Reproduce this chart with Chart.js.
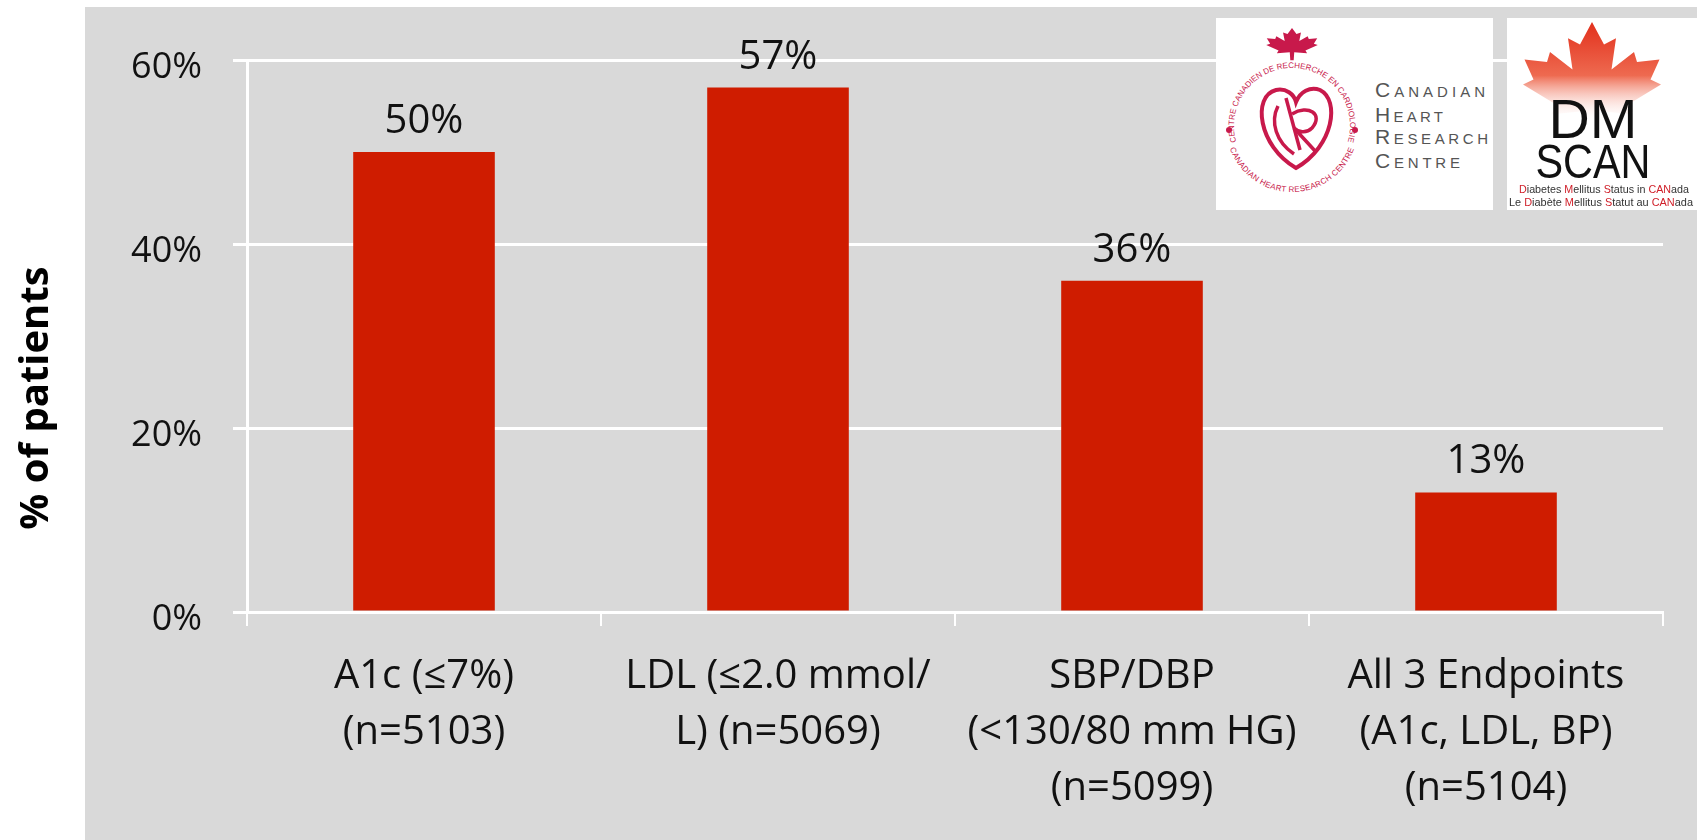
<!DOCTYPE html>
<html>
<head>
<meta charset="utf-8">
<script src="https://cdn.jsdelivr.net/npm/chart.js@4.4.1/dist/chart.umd.min.js"></script>
<style>
  html, body { margin:0; padding:0; background:#ffffff; width:1697px; height:840px; overflow:hidden; }
  #panel { position:absolute; left:85px; top:7px; width:1612px; height:833px; background:#d9d9d9; }
  #wrap { position:absolute; left:0; top:0; width:1697px; height:840px; }
  .logo { position:absolute; background:#ffffff; }
  .logo svg { position:absolute; left:0; top:0; }
</style>
</head>
<body>
<div id="panel"></div>
<div id="wrap"><canvas id="chart"></canvas></div>

<div class="logo" style="left:1216px; top:18px; width:277px; height:192px;">
  <svg width="277" height="192" viewBox="0 0 277 192">
    <defs>
      <path id="ringTop" d="M 25.8 137 A 58 58 0 1 1 126.2 137"/>
      <path id="ringBot" d="M 11 119.5 A 66 66 0 0 0 141 119.5"/>
    </defs>
    <path transform="translate(48,10) scale(0.56,0.34)" fill="#c8194b"
      d="M50 0 L58 18 L66 13 L63 38 L78 24 L80 32 L95 30 L89 46 L96 50 L74 66 L77 74 L54 71 L53 95 L47 95 L46 71 L23 74 L26 66 L4 50 L11 46 L5 30 L20 32 L22 24 L37 38 L34 13 L42 18 Z"/>
    <text font-family="Liberation Sans" font-size="8" fill="#c8194b">
      <textPath href="#ringTop" startOffset="50%" text-anchor="middle">CENTRE CANADIEN DE RECHERCHE EN CARDIOLOGIE</textPath>
    </text>
    <text font-family="Liberation Sans" font-size="8" fill="#c8194b" letter-spacing="0.3">
      <textPath href="#ringBot" startOffset="50%" text-anchor="middle">CANADIAN HEART RESEARCH CENTRE</textPath>
    </text>
    <circle cx="13" cy="112" r="3" fill="#c8194b"/>
    <circle cx="139" cy="112" r="3" fill="#c8194b"/>
    <path d="M80 150 C 42 128, 36 78, 60 72 C 70 70, 78 76, 80 84 C 84 74, 94 68, 104 72 C 124 82, 118 128, 80 150 Z"
      fill="none" stroke="#c8194b" stroke-width="4"/>
    <path d="M62 88 C 54 104, 60 124, 78 136" fill="none" stroke="#c8194b" stroke-width="3.5"/>
    <path d="M70 80 L 84 132" fill="none" stroke="#c8194b" stroke-width="3.5"/>
    <path d="M76 96 C 92 86, 108 96, 96 110 C 90 116, 82 114, 78 110 L 100 134" fill="none" stroke="#c8194b" stroke-width="3.5"/>
    <g font-family="Liberation Sans" fill="#555555" font-size="21" style="font-variant:small-caps">
      <text x="159" y="79" textLength="110" lengthAdjust="spacing">Canadian</text>
      <text x="159" y="104" textLength="68" lengthAdjust="spacing">Heart</text>
      <text x="159" y="126" textLength="113" lengthAdjust="spacing">Research</text>
      <text x="159" y="150" textLength="85" lengthAdjust="spacing">Centre</text>
    </g>
  </svg>
</div>

<div class="logo" style="left:1507px; top:18px; width:190px; height:192px;">
  <svg width="190" height="192" viewBox="0 0 190 192">
    <defs>
      <linearGradient id="leafGrad" x1="0" y1="0" x2="0" y2="1">
        <stop offset="0" stop-color="#e2301c"/>
        <stop offset="0.45" stop-color="#ee6a50"/>
        <stop offset="0.85" stop-color="#ffffff" stop-opacity="0"/>
      </linearGradient>
    </defs>
    <path transform="translate(10,4) scale(1.5,1.25)" fill="url(#leafGrad)"
      d="M50 0 L58 18 L66 13 L63 38 L78 24 L80 32 L95 30 L89 46 L96 50 L74 66 L77 74 L54 71 L53 95 L47 95 L46 71 L23 74 L26 66 L4 50 L11 46 L5 30 L20 32 L22 24 L37 38 L34 13 L42 18 Z"/>
    <text x="86" y="120" text-anchor="middle" font-family="Liberation Sans" font-size="56" fill="#111" textLength="89" lengthAdjust="spacingAndGlyphs">DM</text>
    <text x="86" y="160" text-anchor="middle" font-family="Liberation Sans" font-size="48" fill="#111" textLength="115" lengthAdjust="spacingAndGlyphs">SCAN</text>
    <text x="97" y="175" text-anchor="middle" font-family="Liberation Sans" font-size="11" fill="#333" textLength="170" lengthAdjust="spacingAndGlyphs"><tspan fill="#d0202a">D</tspan>iabetes <tspan fill="#d0202a">M</tspan>ellitus <tspan fill="#d0202a">S</tspan>tatus in <tspan fill="#d0202a">CAN</tspan>ada</text>
    <text x="94" y="188" text-anchor="middle" font-family="Liberation Sans" font-size="11" fill="#333" textLength="184" lengthAdjust="spacingAndGlyphs">Le <tspan fill="#d0202a">D</tspan>iabète <tspan fill="#d0202a">M</tspan>ellitus <tspan fill="#d0202a">S</tspan>tatut au <tspan fill="#d0202a">CAN</tspan>ada</text>
  </svg>
</div>

<script>
// ---- data ----
const categories = [
  ["A1c (≤7%)", "(n=5103)"],
  ["LDL (≤2.0 mmol/", "L) (n=5069)"],
  ["SBP/DBP", "(<130/80 mm HG)", "(n=5099)"],
  ["All 3 Endpoints", "(A1c, LDL, BP)", "(n=5104)"]
];
const values = [50, 57, 36, 13];
const yTickValues = [0, 20, 40, 60];
const yTitle = "% of patients";

// ---- plugins ----
const valueLabels = {
  id: 'valueLabels',
  afterDatasetsDraw(chart) {
    const ctx = chart.ctx;
    const meta = chart.getDatasetMeta(0);
    ctx.save();
    ctx.font = '40px "Open Sans"';
    ctx.fillStyle = '#111111';
    ctx.textAlign = 'center';
    ctx.textBaseline = 'alphabetic';
    meta.data.forEach((bar, i) => {
      ctx.fillText(values[i] + '%', bar.x, bar.y - 19);
    });
    ctx.restore();
  }
};
const yTitlePlugin = {
  id: 'yTitlePlugin',
  afterDraw(chart) {
    const ctx = chart.ctx;
    ctx.save();
    ctx.translate(37, 398);
    ctx.rotate(-Math.PI / 2);
    ctx.font = 'bold 40px "Open Sans"';
    ctx.fillStyle = '#000000';
    ctx.textAlign = 'center';
    ctx.textBaseline = 'middle';
    ctx.fillText(yTitle, 0, 0);
    ctx.restore();
  }
};

new Chart(document.getElementById('chart'), {
  type: 'bar',
  data: {
    labels: categories,
    datasets: [{
      data: values,
      backgroundColor: '#cf1c00',
      borderWidth: 0,
      barPercentage: 0.8,
      categoryPercentage: 0.5
    }]
  },
  options: {
    responsive: true,
    maintainAspectRatio: false,
    animation: false,
    layout: { padding: { top: 60, right: 34, left: 0, bottom: 0 } },
    plugins: { legend: { display: false }, tooltip: { enabled: false } },
    scales: {
      x: {
        afterFit(scale) { scale.height = 228; },
        grid: { drawOnChartArea: false, drawTicks: true, tickLength: 14, color: '#ffffff', lineWidth: 2 },
        border: { display: true, color: '#ffffff', width: 3 },
        ticks: {
          color: '#111111',
          font: { family: '"Open Sans"', size: 40, lineHeight: 1.4 },
          padding: 23,
          maxRotation: 0,
          autoSkip: false
        }
      },
      y: {
        min: 0,
        max: 60,
        afterFit(scale) { scale.width = 247; },
        afterBuildTicks(scale) { scale.ticks = yTickValues.map(v => ({ value: v })); },
        grid: { color: '#ffffff', lineWidth: 3, tickLength: 14, drawTicks: true },
        border: { display: true, color: '#ffffff', width: 3 },
        ticks: {
          color: '#111111',
          font: { family: '"Open Sans"', size: 36 },
          padding: 31,
          labelOffset: 8,
          callback: v => v + '%'
        }
      }
    }
  },
  plugins: [valueLabels, yTitlePlugin]
});
</script>
</body>
</html>
